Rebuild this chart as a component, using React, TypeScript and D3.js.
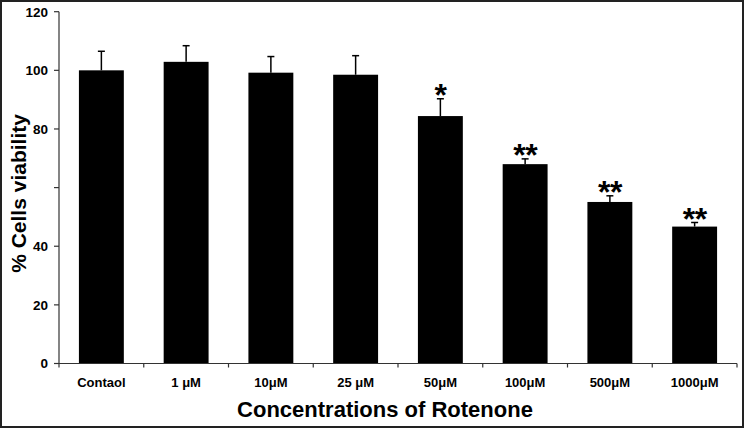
import React from "react";
import * as d3 from "d3";

// values
const categories = ["Contaol", "1 μM", "10μM", "25 μM", "50μM", "100μM", "500μM", "1000μM"];
const viability = [100, 102.9, 99.2, 98.5, 84.4, 68, 55.1, 46.7];
const errorTop = [106.5, 108.4, 104.7, 105, 90.3, 69.8, 57.2, 48.1];
const stars = ["", "", "", "", "*", "**", "**", "**"];
const yTicks = [0, 20, 40, 60, 80, 100, 120];
const yTickLabels = ["0", "20", "40", "", "80", "100", "120"];

const W = 744;
const H = 428;
const font = "'Liberation Sans', Arial, sans-serif";
const starSize = 32;

export default function App() {
  const x = d3.scaleBand<string>()
    .domain(categories)
    .range([59, 737])
    .paddingInner(0.47)
    .paddingOuter(0.235);
  const y = d3.scaleLinear().domain([0, 120]).range([363.5, 11.7]);
  const step = x.step();
  const bounds = d3.range(categories.length + 1).map(i => 59 + i * step);
  const mid = (c: string) => (x(c) as number) + x.bandwidth() / 2;

  return (
    <svg width={W} height={H} style={{ position: "absolute", left: 0, top: 0, background: "#fff" }}>
      <rect x={1} y={1} width={W - 2} height={H - 2} fill="#fff" stroke="#222" strokeWidth={2} />

      {/* bars */}
      {categories.map((c, i) => (
        <rect key={c} x={x(c)} y={y(viability[i])} width={x.bandwidth()}
          height={y(0) - y(viability[i])} fill="#000" />
      ))}

      {/* error bars */}
      {categories.map((c, i) => (
        <g key={c} stroke="#000" strokeWidth={1.5}>
          <line x1={mid(c)} x2={mid(c)} y1={y(viability[i])} y2={y(errorTop[i])} />
          <line x1={mid(c) - 3.5} x2={mid(c) + 3.5} y1={y(errorTop[i])} y2={y(errorTop[i])} />
        </g>
      ))}

      {/* significance stars */}
      {categories.map((c, i) => stars[i] ? (
        <text key={c} x={mid(c)} y={y(errorTop[i]) - 11 + 0.57 * starSize}
          textAnchor="middle" fontFamily={font} fontWeight="bold" fontSize={starSize}
          letterSpacing={-0.5}>{stars[i]}</text>
      ) : null)}

      {/* y axis */}
      <line x1={59} x2={59} y1={y(120)} y2={y(0)} stroke="#333" strokeWidth={1.2} />
      {yTicks.map((t, i) => (
        <g key={t}>
          <line x1={54} x2={59} y1={y(t)} y2={y(t)} stroke="#333" strokeWidth={1.2} />
          <text x={48} y={y(t)} dy="0.36em" textAnchor="end" fontFamily={font}
            fontWeight="bold" fontSize={13.5}>{yTickLabels[i]}</text>
        </g>
      ))}

      {/* x axis */}
      <line x1={59} x2={737} y1={y(0)} y2={y(0)} stroke="#333" strokeWidth={1.2} />
      {bounds.map((b, i) => (
        <line key={i} x1={b} x2={b} y1={y(0)} y2={y(0) + 4} stroke="#333" strokeWidth={1.2} />
      ))}
      {categories.map(c => (
        <text key={c} x={mid(c)} y={387} textAnchor="middle"
          fontFamily={font} fontWeight="bold" fontSize={13}>{c}</text>
      ))}

      {/* axis titles */}
      <text x={385} y={417} textAnchor="middle" fontFamily={font} fontWeight="bold"
        fontSize={22}>Concentrations of Rotenone</text>
      <text transform={`translate(26, ${y(58)}) rotate(-90)`} textAnchor="middle"
        fontFamily={font} fontWeight="bold" fontSize={21}>% Cells viability</text>
    </svg>
  );
}
